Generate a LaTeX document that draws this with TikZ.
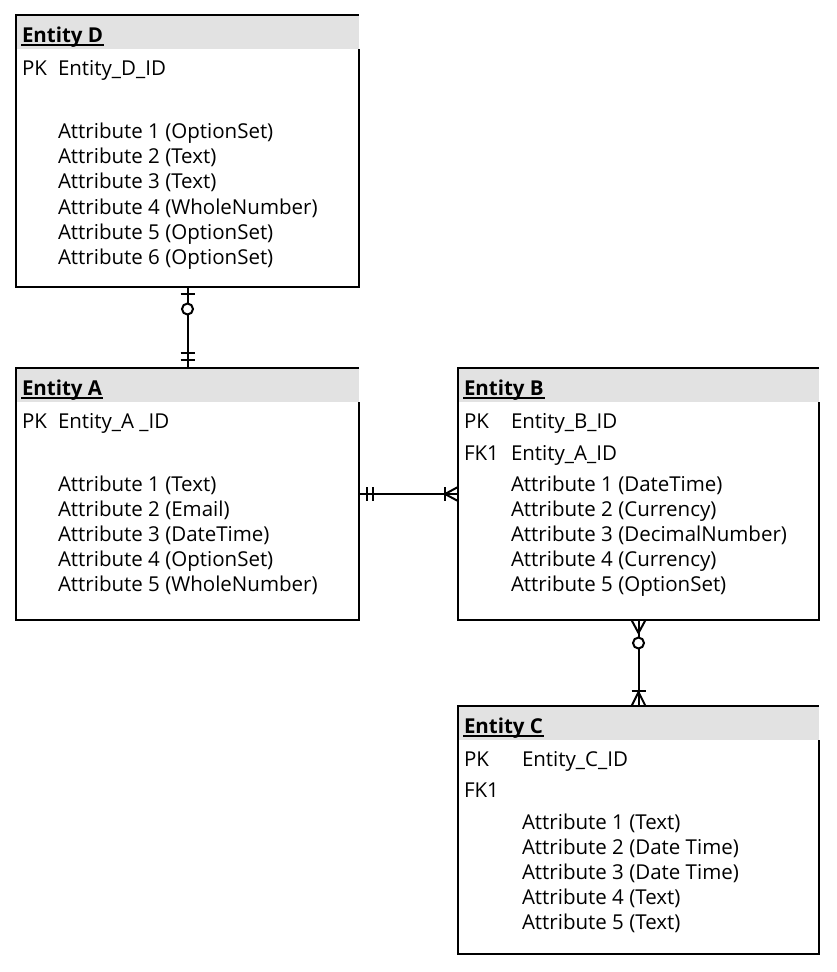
\documentclass[tikz,border=0pt]{standalone}
\usepackage{fontspec}
\setmainfont{Open Sans}
\usetikzlibrary{calc}
\definecolor{hdrgray}{HTML}{E2E2E2}
\newcommand\erbox[6]{%
  \node[ent, minimum width=#4pt, minimum height=#5pt] (#1) at (#2,#3) {};
  \fill[hdrgray] (#1.north west) rectangle ($(#1.north east)+(0,34)$);
  \draw ($(#1.north east)+(0,34)$) -- (#1.south east) -- (#1.south west) -- (#1.north west) -- (#1.north east);
  \node[hdr] (#1t) at ($(#1.north west)+(5,27.5)$) {#6};
  \draw[line width=1.4pt] ($(#1t.base west)+(0,2.5)$) -- ($(#1t.base east)+(0,2.5)$);
}
\begin{document}
\begin{tikzpicture}[x=1pt,y=-1pt, line width=2pt,
  txt/.style={anchor=base west, inner sep=0pt, font=\fontsize{20.5}{24}\selectfont},
  hdr/.style={anchor=base west, inner sep=0pt, font=\fontsize{20.5}{24}\selectfont\bfseries},
  ent/.style={inner sep=0pt, anchor=north west}]
\useasboundingbox[fill=white] (0,0) rectangle (836,972);

% Entity D
\erbox{D}{16}{15}{341}{270}{Entity D}
\node[txt] (dpk) at (21,75) {PK};
\node[txt] (did) at (57,75) {Entity\_D\_ID};
\node[txt] (d1) at (57,138) {Attribute 1 (OptionSet)};
\node[txt] (d2) at (57,163.3) {Attribute 2 (Text)};
\node[txt] (d3) at (57,188.6) {Attribute 3 (Text)};
\node[txt] (d4) at (57,214) {Attribute 4 (WholeNumber)};
\node[txt] (d5) at (57,239.3) {Attribute 5 (OptionSet)};
\node[txt] (d6) at (57,264.6) {Attribute 6 (OptionSet)};

% Entity A
\erbox{A}{16}{368}{341}{250}{Entity A}
\node[txt] (apk) at (21,428) {PK};
\node[txt] (aid) at (57,428) {Entity\_A \_ID};
\node[txt] (a1) at (57,491) {Attribute 1 (Text)};
\node[txt] (a2) at (57,516) {Attribute 2 (Email)};
\node[txt] (a3) at (57,541) {Attribute 3 (DateTime)};
\node[txt] (a4) at (57,566) {Attribute 4 (OptionSet)};
\node[txt] (a5) at (57,591) {Attribute 5 (WholeNumber)};

% Entity B
\erbox{B}{458}{368}{359}{250}{Entity B}
\node[txt] (bpk) at (463,428) {PK};
\node[txt] (bid) at (510,428) {Entity\_B\_ID};
\node[txt] (bfk) at (463,460) {FK1};
\node[txt] (bfa) at (510,460) {Entity\_A\_ID};
\node[txt] (b1) at (510,491) {Attribute 1 (DateTime)};
\node[txt] (b2) at (510,516) {Attribute 2 (Currency)};
\node[txt] (b3) at (510,541) {Attribute 3 (DecimalNumber)};
\node[txt] (b4) at (510,566) {Attribute 4 (Currency)};
\node[txt] (b5) at (510,591) {Attribute 5 (OptionSet)};

% Entity C
\erbox{C}{458}{706}{359}{246}{Entity C}
\node[txt] (cpk) at (463,766) {PK};
\node[txt] (cid) at (521,766) {Entity\_C\_ID};
\node[txt] (cfk) at (463,797) {FK1};
\node[txt] (c1) at (521,829) {Attribute 1 (Text)};
\node[txt] (c2) at (521,854) {Attribute 2 (Date Time)};
\node[txt] (c3) at (521,879) {Attribute 3 (Date Time)};
\node[txt] (c4) at (521,904) {Attribute 4 (Text)};
\node[txt] (c5) at (521,929) {Attribute 5 (Text)};

% D -- A : zero-or-one to exactly one
\draw (D.south) -- (A.north);
\draw ($(D.south)+(-7,7)$) -- ++(14,0);
\draw[fill=white] ($(D.south)+(0,22)$) circle (5.5);
\draw ($(A.north)+(-7,-15)$) -- ++(14,0);
\draw ($(A.north)+(-7,-8)$) -- ++(14,0);

% A -- B : exactly one to one-or-many
\draw (A.east) -- (B.west);
\draw ($(A.east)+(8,-7)$) -- ++(0,14);
\draw ($(A.east)+(14,-7)$) -- ++(0,14);
\draw ($(B.west)+(0,-7)$) -- ($(B.west)+(-13,0)$) -- ($(B.west)+(0,7)$);
\draw ($(B.west)+(-13,-7)$) -- ++(0,14);

% B -- C : zero-or-many to one-or-many
\draw (B.south) -- (C.north);
\draw ($(B.south)+(-7,0)$) -- ($(B.south)+(0,13)$) -- ($(B.south)+(7,0)$);
\draw[fill=white] ($(B.south)+(0,23)$) circle (5.5);
\draw ($(C.north)+(-7,0)$) -- ($(C.north)+(0,-14)$) -- ($(C.north)+(7,0)$);
\draw ($(C.north)+(-7,-15)$) -- ++(14,0);
\end{tikzpicture}
\end{document}
